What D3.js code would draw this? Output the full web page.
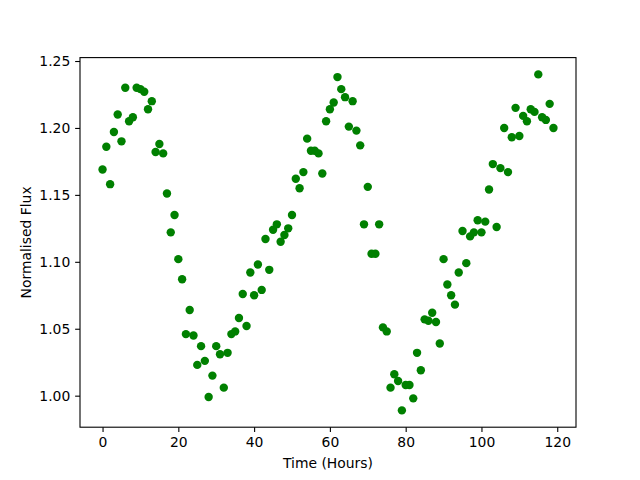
<!DOCTYPE html>
<html>
<head>
<meta charset="utf-8">
<script src="https://cdn.jsdelivr.net/npm/d3@7"></script>
<style>
  body { margin: 0; background: #fff; }
  text { font-family: "DejaVu Sans", sans-serif; }
</style>
</head>
<body>
<div id="chart"></div>
<script>
// hourly samples, 0..119
const hours = d3.range(0, 120)

const flux = [
  1.169, 1.186, 1.158, 1.197, 1.210, 1.190, 1.230, 1.205, 1.208, 1.230,
  1.229, 1.227, 1.214, 1.220, 1.182, 1.188, 1.181, 1.151, 1.122, 1.135,
  1.102, 1.087, 1.046, 1.064, 1.045, 1.023, 1.037, 1.026, 0.999, 1.015,
  1.037, 1.031, 1.006, 1.032, 1.046, 1.048, 1.058, 1.076, 1.052, 1.092,
  1.075, 1.098, 1.079, 1.117, 1.094, 1.124, 1.128, 1.115, 1.120, 1.125,
  1.135, 1.162, 1.155, 1.167, 1.192, 1.183, 1.183, 1.181, 1.166, 1.205,
  1.214, 1.219, 1.238, 1.229, 1.223, 1.201, 1.220, 1.198, 1.187, 1.128,
  1.156, 1.106, 1.106, 1.128, 1.051, 1.048, 1.006, 1.016, 1.011, 0.989,
  1.008, 1.008, 0.998, 1.032, 1.019, 1.057, 1.056, 1.062, 1.055, 1.039,
  1.102, 1.083, 1.075, 1.068, 1.092, 1.123, 1.099, 1.119, 1.122, 1.131,
  1.122, 1.130, 1.154, 1.173, 1.126, 1.170, 1.200, 1.167, 1.193, 1.215,
  1.194, 1.209, 1.205, 1.214, 1.212, 1.240, 1.208, 1.206, 1.218, 1.200
]

const xTicks = [0, 20, 40, 60, 80, 100, 120]
const yTicks = [1.00, 1.05, 1.10, 1.15, 1.20, 1.25]

const width = 640
const height = 480
const margin = {top: 57.6, right: 64, bottom: 52.8, left: 80}

// matplotlib style 5% padding around the data
const pad = ([lo, hi]) => {
    const m = (hi - lo) * 0.05
    return [lo - m, hi + m]
}

const x = d3.scaleLinear()
    .domain(pad(d3.extent(hours)))
    .range([margin.left, width - margin.right])

const y = d3.scaleLinear()
    .domain(pad(d3.extent(flux)))
    .range([height - margin.bottom, margin.top])

const svg = d3.select('#chart')
    .append('svg')
    .attr('width', width)
    .attr('height', height)

svg.append('rect')
    .attr('width', width)
    .attr('height', height)
    .attr('fill', '#fff')

const tick = 4.86

const xAxis = svg.append('g')
    .attr('transform', 'translate(0,' + (height - margin.bottom) + ')')
    .call(d3.axisBottom(x).tickValues(xTicks).tickSize(tick).tickPadding(4.86).tickSizeOuter(0))

const yAxis = svg.append('g')
    .attr('transform', 'translate(' + margin.left + ',0)')
    .call(d3.axisLeft(y).tickValues(yTicks).tickFormat(d3.format('.2f')).tickSize(tick).tickPadding(4.86).tickSizeOuter(0))

;[xAxis, yAxis].forEach(g => {
    g.select('.domain').remove()
    g.selectAll('line').attr('stroke', '#000').attr('stroke-width', 1.1)
    g.selectAll('text').attr('fill', '#000').style('font-size', '13.9px')
})

// frame
svg.append('rect')
    .attr('x', margin.left)
    .attr('y', margin.top)
    .attr('width', width - margin.left - margin.right)
    .attr('height', height - margin.top - margin.bottom)
    .attr('fill', 'none')
    .attr('stroke', '#000')
    .attr('stroke-width', 1.1)

svg.append('g')
    .selectAll('circle')
    .data(hours)
    .enter()
    .append('circle')
    .attr('cx', d => x(d))
    .attr('cy', (d, i) => y(flux[i]))
    .attr('r', 4.2)
    .attr('fill', 'green')

svg.append('text')
    .attr('x', (margin.left + width - margin.right) / 2)
    .attr('y', 468)
    .attr('text-anchor', 'middle')
    .style('font-size', '13.9px')
    .text('Time (Hours)')

svg.append('text')
    .attr('transform', 'translate(31,' + ((margin.top + height - margin.bottom) / 2) + ') rotate(-90)')
    .attr('text-anchor', 'middle')
    .style('font-size', '13.9px')
    .text('Normalised Flux')
</script>
</body>
</html>
